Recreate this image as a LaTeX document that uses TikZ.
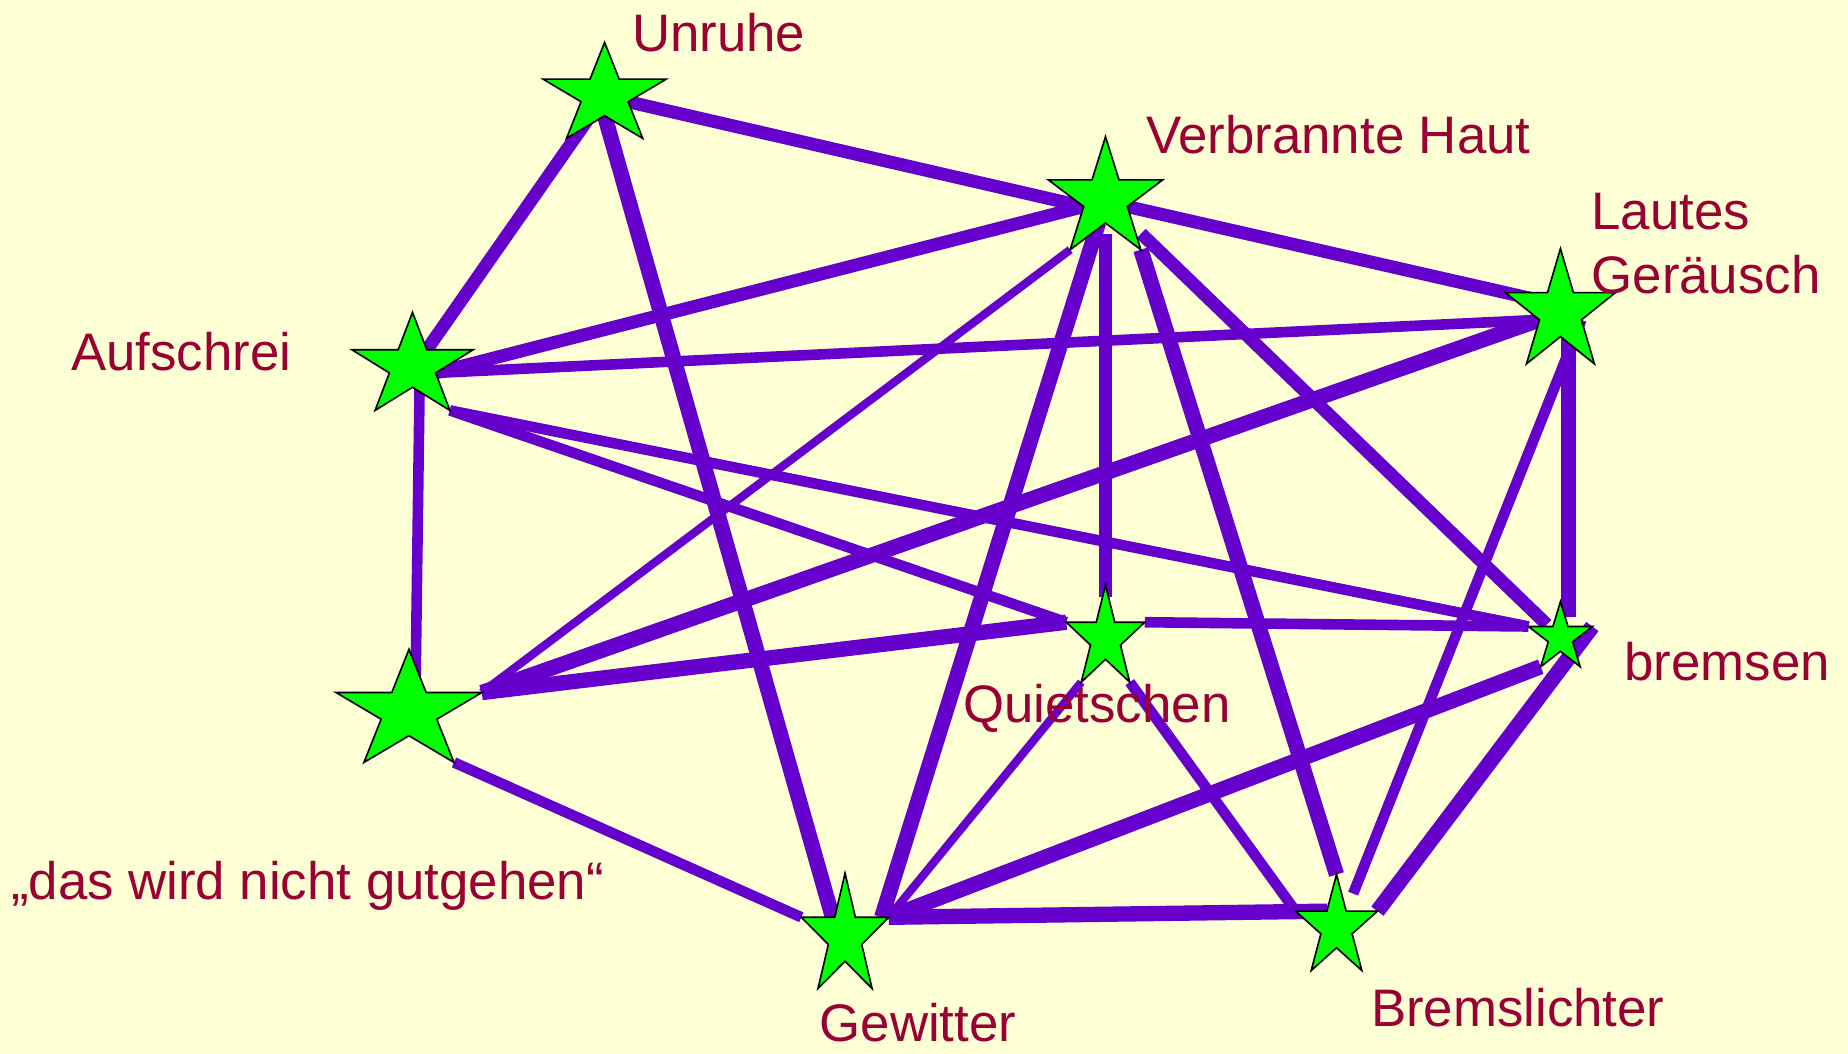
\documentclass[tikz,border=0pt]{standalone}
\usepackage{fontspec}
\setmainfont{Liberation Sans}
\usepackage{tikz}
\usetikzlibrary{shapes.geometric}

\definecolor{bgyellow}{HTML}{FFFFD5}
\definecolor{linkviolet}{HTML}{6600CC}
\definecolor{stargreen}{HTML}{00FF00}
\definecolor{wordred}{HTML}{990033}

\pgfdeclarelayer{back}
\pgfsetlayers{back,main}

\begin{document}
\begin{tikzpicture}
			[
			x=0.5pt, y=-0.5pt,
			font=\fontsize{22.4}{27}\selectfont
			]
			
			% Stars, labels and the four link weights
			\tikzstyle{star node}=[star,star points=5,star point ratio=2.618,draw=black,line width=0.7pt,fill=stargreen,inner sep=0pt,outer sep=0pt];
			\tikzstyle{word}=[text=wordred,anchor=base west,inner sep=0pt];
			\tikzstyle{link thin}=[draw=linkviolet,line width=3.5pt];
			\tikzstyle{link mid}=[draw=linkviolet,line width=4.5pt];
			\tikzstyle{link wide}=[draw=linkviolet,line width=5.5pt];
			\tikzstyle{link heavy}=[draw=linkviolet,line width=6.5pt];
			
			% The stars
			\node(u)[star node,minimum size=45pt,xscale=1.222]at(513,81){};
			\node(v)[star node,minimum size=53pt,xscale=0.962]at(938,169){};
			\node(l)[star node,minimum size=54pt,xscale=0.907]at(1324,265){};
			\node(a)[star node,minimum size=46pt,xscale=1.174]at(350,311){};
			\node(d)[star node,minimum size=53pt,xscale=1.226]at(347,604){};
			\node(q)[star node,minimum size=45.5pt,xscale=0.769]at(938,542){};
			\node(b)[star node,minimum size=30.5pt,xscale=0.934]at(1324,541){};
			\node(g)[star node,minimum size=54pt,xscale=0.722]at(717,795){};
			\node(bl)[star node,minimum size=45pt,xscale=0.811]at(1134,787){};
			
			% Labels
			\node(unruhe label)[word]at(536,44){Unruhe};
			\node(verbrannte label)[word]at(972,130){Verbrannte Haut};
			\node(lautes label)[word]at(1350,195){Lautes};
			\node(geraeusch label)[word]at(1350,249){Geräusch};
			\node(aufschrei label)[word]at(60,314){Aufschrei};
			\node(bremsen label)[word]at(1378,577){bremsen};
			\node(quietschen label)[word]at(817,613){Quietschen};
			\node(gutgehen label)[word]at(9,763){„das wird nicht gutgehen“};
			\node(gewitter label)[word]at(695,884){Gewitter};
			\node(bremslichter label)[word]at(1163,871){Bremslichter};
			
			\begin{pgfonlayer}{back}
			% Background
			\fill[bgyellow](0,0)rectangle(1568,894);
			
			% Links from Unruhe
			\draw[link wide](u.inner point 4)--(v.inner point 2);
			\draw[link wide](u.center)--(a.inner point 5);
			\draw[link heavy](u.inner point 3)--(g.inner point 3);
			% Links from Aufschrei
			\draw[link wide](a.inner point 4)--(v.inner point 2);
			\draw[link mid](a.inner point 4)--(l.inner point 2);
			\draw[link mid](a.outer point 4)--(q.outer point 2);
			\draw[link mid](a.outer point 4)--(b.outer point 2);
			\draw[link mid,shorten >=-12pt]([xshift=3pt]a.inner point 3)--([xshift=3pt]d.outer point 1);
			% Links from Verbrannte Haut
			\draw[link wide,shorten >=-12pt](v.inner point 4)--(l.outer point 2);
			\draw[link wide,shorten <=4.5pt,shorten >=-5pt](v.inner point 3)--(q.outer point 1);
			\draw[link heavy]([xshift=-3pt]v.inner point 3)--([xshift=-3pt]g.outer point 5);
			\draw[link heavy](v.outer point 4)--(bl.outer point 1);
			\draw[link wide,shorten <=21pt,shorten >=8pt](v.center)--(b.center);
			\draw[link thin](v.outer point 3)--(d.outer point 5);
			% Links from Lautes Geraeusch
			\draw[link heavy](l.inner point 2)--(d.outer point 5);
			\draw[link heavy,shorten >=-6.5pt]([xshift=3.5pt]l.inner point 3)--([xshift=3.5pt]b.outer point 1);
			\draw[link mid,shorten >=8pt](l.inner point 4)--(bl.inner point 5);
			% Links from Quietschen
			\draw[link heavy](q.outer point 2)--(d.outer point 5);
			\draw[link mid](q.outer point 5)--(b.outer point 2);
			\draw[link thin](q.outer point 3)--(g.outer point 5);
			\draw[link mid](q.outer point 4)--(bl.outer point 2);
			% Links from bremsen, das wird nicht gutgehen, Gewitter
			\draw[link heavy](b.outer point 3)--(g.outer point 5);
			\draw[link heavy](b.outer point 5)--(bl.outer point 5);
			\draw[link mid](d.outer point 4)--(g.outer point 2);
			\draw[link heavy](g.outer point 5)--(bl.inner point 1);
			\end{pgfonlayer}
			\end{tikzpicture}
\end{document}
